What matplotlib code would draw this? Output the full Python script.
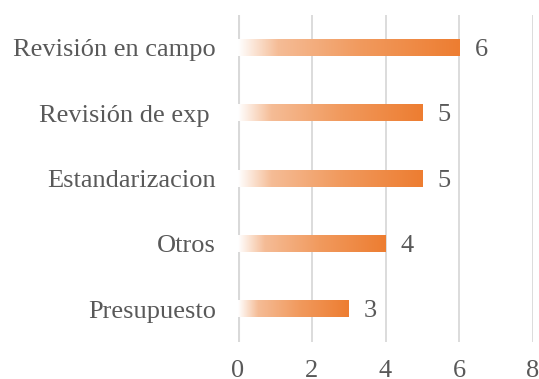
import matplotlib.pyplot as plt
import numpy as np
from matplotlib.colors import LinearSegmentedColormap

categorias = ['Presupuesto', 'Otros', 'Estandarizacion', 'Revisión de exp ', 'Revisión en campo']
valores = [3, 4, 5, 5, 6]
xticks = [0, 2, 4, 6, 8]

plt.rcParams['font.family'] = ['Liberation Serif', 'DejaVu Serif']
gris = '#595959'

# degradado blanco -> naranja a lo largo de cada barra
degradado = LinearSegmentedColormap.from_list(
    'naranja', [(0, '#FFFFFF'), (0.18, '#F5BC96'), (0.55, '#F19A5E'), (1, '#ED7D31')])

fig = plt.figure(figsize=(5.39, 3.79), dpi=100)
ax = fig.add_axes([0.4416, 0.0976, 0.5474, 0.8624])

alto = 0.25
grad = np.linspace(0, 1, 256).reshape(1, -1)
for i, v in enumerate(valores):
    ax.imshow(grad, cmap=degradado, aspect='auto', zorder=2,
              extent=[0, v, i - alto / 2, i + alto / 2])
    ax.annotate(str(v), (v, i), xytext=(11, -1.5), textcoords='offset points',
                ha='left', va='center', fontsize=19, color=gris)

ax.set_xlim(0, 8)
ax.set_ylim(-0.5, 4.5)
ax.set_xticks(xticks)
ax.set_yticks(range(len(categorias)))
ax.set_yticklabels(categorias)
ax.tick_params(length=0, labelsize=19, colors=gris)
ax.tick_params(axis='x', pad=13)
ax.tick_params(axis='y', pad=16)

for x in xticks:
    ax.axvline(x, color='#D9D9D9', lw=2.2 if x == 0 else 1.3, zorder=1)
for s in ax.spines.values():
    s.set_visible(False)

plt.savefig('out.png')
